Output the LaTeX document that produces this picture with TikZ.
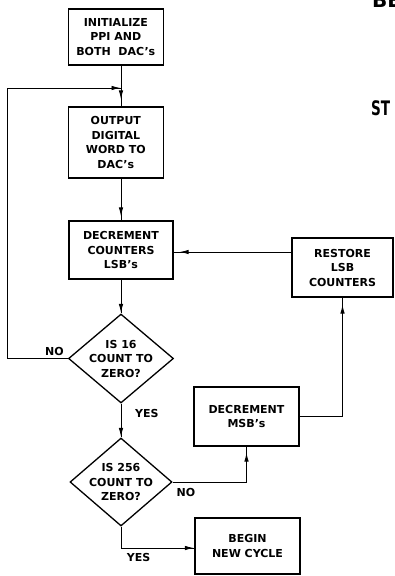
\documentclass[tikz,border=0pt]{standalone}
\usepackage{fontspec}
\setmainfont{DejaVu Sans}
\usetikzlibrary{arrows.meta,shapes.geometric,decorations.markings}

\newcommand\flowtext{\bfseries\fontsize{11}{14.5}\selectfont}
\newcommand\headtext{\bfseries\fontsize{20}{22}\selectfont}

\tikzset{
  stepbox/.style={draw, rectangle, line width=1.3pt, inner sep=0pt,
    align=center, font=\flowtext},
  decision/.style={draw, diamond, line width=1.3pt, inner sep=0pt},
  caption/.style={font=\flowtext, inner sep=0pt},
  flow/.style={line width=0.9pt, postaction={decorate},
    decoration={markings, mark=at position #1 with
      {\arrow{Latex[length=9pt,width=4.5pt]}}}},
  flow/.default=-0.5pt
}

\begin{document}
\begin{tikzpicture}[x=1pt,y=-1pt]
  \clip (0,0) rectangle (394,576);
  \useasboundingbox (0,0) rectangle (394,576);

  % process steps
  \node[stepbox, minimum width=95pt, minimum height=56pt] (init) at (115.8,37)
    {INITIALIZE\\PPI AND\\BOTH~ DAC’s};
  \node[stepbox, minimum width=95pt, minimum height=71pt] (out) at (115.8,142.5)
    {OUTPUT\\DIGITAL\\WORD TO\\DAC’s};
  \node[stepbox, minimum width=104pt, minimum height=58pt] (declsb) at (121,250)
    {DECREMENT\\COUNTERS\\LSB’s};
  \node[stepbox, minimum width=101pt, minimum height=59pt] (restore) at (342.5,267.5)
    {RESTORE\\LSB\\COUNTERS};
  \node[stepbox, minimum width=105pt, minimum height=59pt] (decmsb) at (246.5,416.5)
    {DECREMENT\\MSB’s};
  \node[stepbox, minimum width=105pt, minimum height=56pt] (newcycle) at (247.5,546)
    {BEGIN\\NEW CYCLE};

  % decisions
  \node[decision, minimum width=105pt, minimum height=89pt,
    label={[caption, align=center]center:{IS 16\\COUNT TO\\ZERO?}}] (z16) at (121,358.5) {};
  \node[decision, minimum width=102pt, minimum height=88pt,
    label={[caption, align=center]center:{IS 256\\COUNT TO\\ZERO?}}] (z256) at (121,482) {};

  % main flow
  \draw[flow=-7pt] (init.south -| declsb) -- (out.north -| declsb);
  \draw[flow=-4pt] (out.south -| declsb) -- (declsb.north);
  \draw[flow] (declsb.south) -- (z16.north);
  \draw[flow] (z16.south) -- (z256.north);
  \node[caption, anchor=west] (yes1) at (135,413) {YES};

  % loop back when the 16 count is not zero
  \coordinate (join) at (121,88);
  \coordinate (loopcorner) at (7,88);
  \draw[flow] (z16.west) -| (loopcorner) -- (join);
  \node[caption] (no1) at (54.5,351) {NO};

  % 256 count not zero: decrement MSBs, restore LSB counters
  \draw[flow=-6pt] (z256.east) -| (decmsb.south);
  \node[caption] (no2) at (186,492) {NO};
  \draw[flow=-7pt] (decmsb.east) -| (restore.south);
  \draw[flow=-6pt] (restore.west |- 0,252) -- (declsb.east |- 0,252);

  % 256 count zero: new cycle
  \draw[flow] (z256.south) |- (newcycle.west |- 0,548);
  \node[caption] (yes2) at (138.5,557) {YES};

  % headings at the right edge
  \node[font=\headtext, anchor=base west, inner sep=0pt] (hbe) at (372,7) {BE};
  \node[font=\headtext, anchor=base west, inner sep=0pt] (hst) at (371,115)
    {\scalebox{0.68}[1]{ST}};
\end{tikzpicture}
\end{document}
